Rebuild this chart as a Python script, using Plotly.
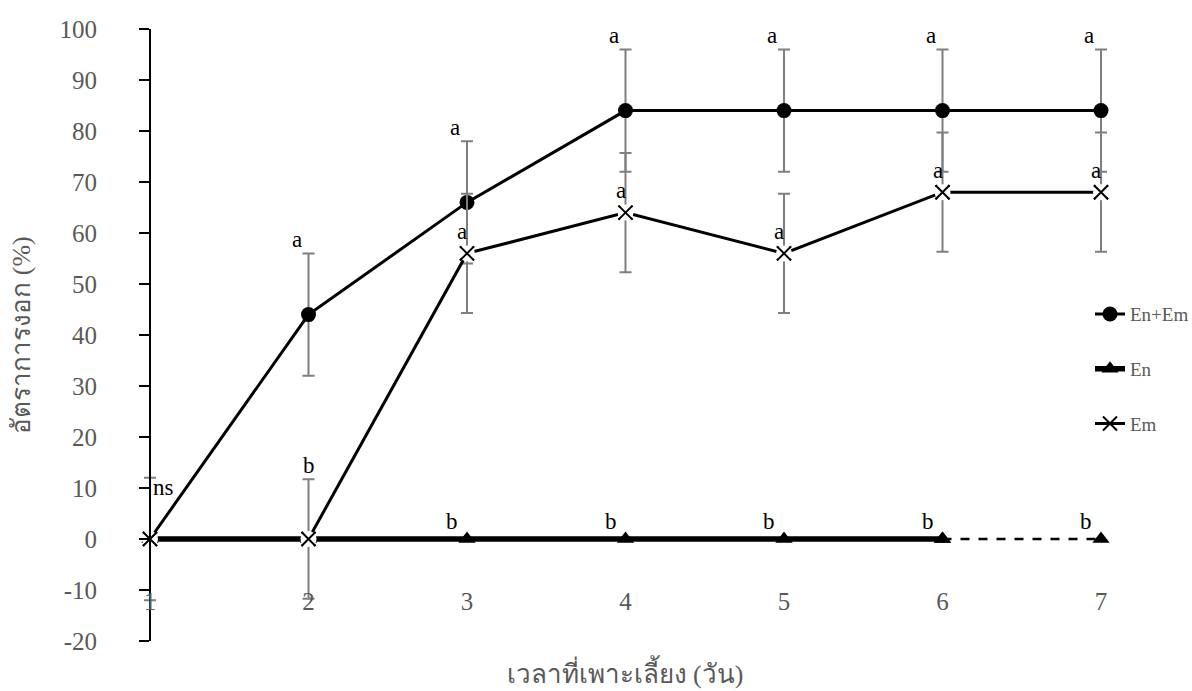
import plotly.graph_objects as go

# ---- data ----
days = [1, 2, 3, 4, 5, 6, 7]
en_em = [0, 44, 66, 84, 84, 84, 84]
en_em_err = [12, 12, 12, 12, 12, 12, 12]
en = [0, 0, 0, 0, 0, 0, 0]
em = [0, 0, 56, 64, 56, 68, 68]
em_err = [0, 11.7, 11.7, 11.7, 11.7, 11.7, 11.7]

en_em_letters = ["ns", "a", "a", "a", "a", "a", "a"]
en_letters = ["", "", "b", "b", "b", "b", "b"]
em_letters = ["", "b", "a", "a", "a", "a", "a"]

y_ticks = list(range(-20, 101, 10))
y_ticktext = [str(v) for v in y_ticks]

x_title = "เวลาที่เพาะเลี้ยง (วัน)"
y_title = "อัตราการงอก (%)"

SERIF = "Liberation Serif, serif"
GRAY_TXT = "#595959"
ERR_COL = "#7f7f7f"

# layout geometry (pixels)
W, H = 1192, 691
ML, MR, MT, MB = 140, 82, 29, 50
X_AXIS_PX = 150      # where day 1 / y-axis line sits
X_LAST_PX = 1101     # where day 7 sits
plot_w = W - ML - MR
px_per_day = (X_LAST_PX - X_AXIS_PX) / (days[-1] - days[0])
x_lo = days[0] - (X_AXIS_PX - ML) / px_per_day
x_hi = days[-1] + (W - MR - X_LAST_PX) / px_per_day
y_axis_pos = (X_AXIS_PX - ML) / plot_w

fig = go.Figure()

fig.add_trace(go.Scatter(
    x=days, y=en_em, name="En+Em", mode="lines+markers", cliponaxis=False,
    line=dict(color="black", width=3),
    marker=dict(symbol="circle", size=15, color="black"),
    error_y=dict(type="data", array=en_em_err, visible=True,
                 color=ERR_COL, thickness=2, width=6),
    legendgroup="g1",
))

# En: thick solid through day 6, thin dashed segment to day 7
fig.add_trace(go.Scatter(
    x=days[:-1], y=en[:-1], name="En", mode="lines+markers", cliponaxis=False,
    line=dict(color="black", width=5.5),
    marker=dict(symbol="triangle-up", size=15, color="black"),
    legendgroup="g2",
))
fig.add_trace(go.Scatter(
    x=days[-2:], y=en[-2:], name="En", mode="lines+markers", cliponaxis=False,
    line=dict(color="black", width=2.5, dash="dash"),
    marker=dict(symbol="triangle-up", size=15, color="black"),
    legendgroup="g2", showlegend=False,
))

# Em: line + error bars, then white marker backing, then the x markers on top
fig.add_trace(go.Scatter(
    x=days, y=em, name="Em", mode="lines+markers", cliponaxis=False,
    line=dict(color="black", width=3),
    marker=dict(symbol="x-thin-open", size=14, color="black",
                line=dict(color="black", width=2)),
    error_y=dict(type="data", array=em_err, visible=True,
                 color=ERR_COL, thickness=2, width=6),
    legendgroup="g3",
))
fig.add_trace(go.Scatter(
    x=days, y=em, mode="markers", cliponaxis=False, showlegend=False,
    marker=dict(symbol="circle", size=16, color="white"),
    hoverinfo="skip", legendgroup="g3",
))
fig.add_trace(go.Scatter(
    x=days, y=em, name="Em", mode="markers", cliponaxis=False, showlegend=False,
    marker=dict(symbol="x-thin-open", size=14, color="black",
                line=dict(color="black", width=2)),
    legendgroup="g3",
))

ann_font = dict(family=SERIF, size=23, color="black")
annotations = []
for d, v, e, t in zip(days, en_em, en_em_err, en_em_letters):
    if not t:
        continue
    if t == "ns":
        annotations.append(dict(x=d, y=v + e, text=t, showarrow=False,
                                xanchor="left", yanchor="middle",
                                xshift=1, yshift=-10, font=ann_font))
    else:
        annotations.append(dict(x=d, y=v + e, text=t, showarrow=False,
                                xanchor="center", yanchor="middle",
                                xshift=-12, yshift=14, font=ann_font))
for d, v, t in zip(days, en, en_letters):
    if t:
        annotations.append(dict(x=d, y=v, text=t, showarrow=False,
                                xanchor="center", yanchor="middle",
                                xshift=-15, yshift=18, font=ann_font))
for d, v, e, t in zip(days, em, em_err, em_letters):
    if not t:
        continue
    if v == 0:
        annotations.append(dict(x=d, y=v + e, text=t, showarrow=False,
                                xanchor="center", yanchor="middle",
                                xshift=0, yshift=14, font=ann_font))
    else:
        annotations.append(dict(x=d, y=v, text=t, showarrow=False,
                                xanchor="center", yanchor="middle",
                                xshift=-5, yshift=22, font=ann_font))

fig.update_layout(
    width=W, height=H,
    margin=dict(l=ML, r=MR, t=MT, b=MB, autoexpand=False),
    paper_bgcolor="white", plot_bgcolor="white",
    showlegend=True,
    legend=dict(x=(1130 - 40 - ML) / plot_w, y=0.565, xanchor="left", yanchor="top",
                bgcolor="rgba(0,0,0,0)", tracegroupgap=27,
                font=dict(family=SERIF, size=19, color=GRAY_TXT)),
    annotations=annotations,
    xaxis=dict(
        range=[x_lo, x_hi], tickmode="array", tickvals=days,
        ticktext=[str(d) for d in days],
        showline=False, showgrid=False, zeroline=False, ticks="",
        tickfont=dict(family=SERIF, size=25, color=GRAY_TXT),
        ticklabelstandoff=-57,
        title=dict(text=x_title, font=dict(family=SERIF, size=26, color=GRAY_TXT),
                   standoff=50),
    ),
    yaxis=dict(
        anchor="free", position=y_axis_pos,
        range=[-20, 100], tickmode="array", tickvals=y_ticks, ticktext=y_ticktext,
        showline=True, linecolor="black", linewidth=2,
        ticks="outside", ticklen=10, tickcolor="black", tickwidth=2,
        showgrid=False, zeroline=False,
        tickfont=dict(family=SERIF, size=25, color=GRAY_TXT),
        ticklabelstandoff=37,
        title=dict(text=y_title, font=dict(family=SERIF, size=26, color=GRAY_TXT),
                   standoff=20),
    ),
)

fig.write_html("out.html")
